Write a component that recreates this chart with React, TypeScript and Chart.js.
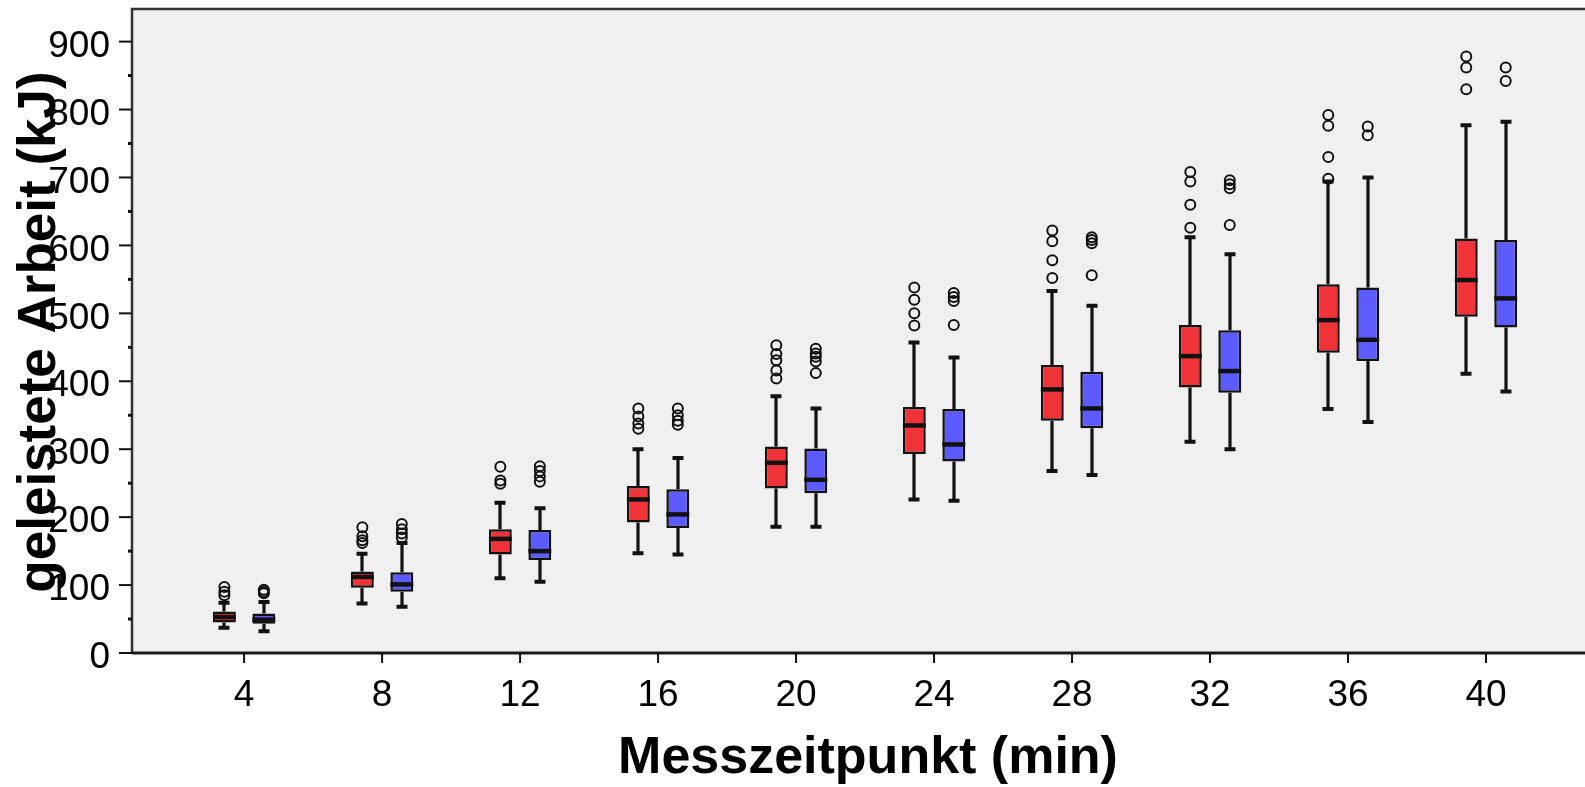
import { useEffect, useRef } from "react";
import { Chart, registerables } from "chart.js";

Chart.register(...registerables);

// Measurement times (min)
const minutes = [4, 8, 12, 16, 20, 24, 28, 32, 36, 40];

// Group 1 (red): five-number summaries per measurement time, in kJ
const redMin = [37, 73, 110, 147, 186, 226, 268, 311, 359, 411];
const redQ1 = [45, 96, 145, 192, 242, 293, 342, 391, 442, 495];
const redMedian = [53, 112, 168, 226, 280, 335, 388, 437, 490, 549];
const redQ3 = [61, 120, 182, 246, 304, 362, 424, 483, 543, 610];
const redMax = [74, 146, 221, 300, 378, 457, 533, 612, 694, 777];
const redOutliers = [
  [97, 90, 85],
  [185, 172, 166, 162],
  [274, 254, 249],
  [360, 348, 338, 330],
  [453, 440, 431, 416, 404],
  [538, 520, 500, 482],
  [622, 606, 578, 552],
  [708, 694, 660, 626],
  [792, 776, 730, 698],
  [878, 862, 830],
];

// Group 2 (blue)
const blueMin = [32, 68, 105, 145, 186, 224, 262, 300, 340, 385];
const blueQ1 = [43, 90, 137, 184, 235, 282, 331, 383, 430, 479];
const blueMedian = [49, 101, 150, 204, 255, 307, 360, 415, 461, 522];
const blueQ3 = [58, 119, 181, 241, 301, 359, 414, 475, 538, 608];
const blueMax = [75, 162, 213, 287, 360, 435, 511, 587, 700, 782];
const blueOutliers = [
  [93, 90, 88],
  [190, 182, 176, 170],
  [275, 268, 260, 252],
  [360, 350, 342, 336],
  [448, 441, 436, 429, 412],
  [530, 524, 518, 483],
  [612, 608, 603, 556],
  [696, 690, 684, 630],
  [775, 762],
  [862, 842],
];

// Axis ticks
const yTickValues = [0, 50, 100, 150, 200, 250, 300, 350, 400, 450, 500, 550, 600, 650, 700, 750, 800, 850, 900];
const yLabelStep = 100;
const xTitle = "Messzeitpunkt (min)";
const yTitle = "geleistete Arbeit (kJ)";

const RED = "#f03239";
const BLUE = "#5b5bff";
const INK = "#111111";
const FONT = "'Liberation Sans', Arial, sans-serif";

const groups = [
  { min: redMin, q1: redQ1, median: redMedian, q3: redQ3, max: redMax, outliers: redOutliers, color: RED },
  { min: blueMin, q1: blueQ1, median: blueMedian, q3: blueQ3, max: blueMax, outliers: blueOutliers, color: BLUE },
];

const boxplotPlugin = {
  id: "boxplotParts",
  beforeDraw(chart: any) {
    const { ctx, chartArea: a } = chart;
    ctx.save();
    ctx.fillStyle = "#f0f0f0";
    ctx.fillRect(a.left, a.top, a.right - a.left, a.bottom - a.top);
    ctx.restore();
  },
  beforeDatasetsDraw(chart: any) {
    const { ctx } = chart;
    const y = chart.scales.y;
    ctx.save();
    ctx.strokeStyle = INK;
    groups.forEach((g, di) => {
      const meta = chart.getDatasetMeta(di);
      meta.data.forEach((bar: any, j: number) => {
        const x = Math.round(bar.x);
        const yMin = y.getPixelForValue(g.min[j]);
        const yMax = y.getPixelForValue(g.max[j]);
        const yQ1 = y.getPixelForValue(g.q1[j]);
        const yQ3 = y.getPixelForValue(g.q3[j]);
        ctx.lineWidth = 3.2;
        ctx.beginPath();
        ctx.moveTo(x, yQ3);
        ctx.lineTo(x, yMax);
        ctx.moveTo(x, yQ1);
        ctx.lineTo(x, yMin);
        ctx.stroke();
        ctx.lineWidth = 4;
        ctx.beginPath();
        ctx.moveTo(x - 5.5, yMax);
        ctx.lineTo(x + 5.5, yMax);
        ctx.moveTo(x - 5.5, yMin);
        ctx.lineTo(x + 5.5, yMin);
        ctx.stroke();
      });
    });
    ctx.restore();
  },
  afterDatasetsDraw(chart: any) {
    const { ctx } = chart;
    const y = chart.scales.y;
    ctx.save();
    ctx.strokeStyle = INK;
    groups.forEach((g, di) => {
      const meta = chart.getDatasetMeta(di);
      meta.data.forEach((bar: any, j: number) => {
        const x = bar.x;
        const half = bar.width / 2;
        const yMed = y.getPixelForValue(g.median[j]);
        ctx.lineWidth = 4.5;
        ctx.beginPath();
        ctx.moveTo(x - half, yMed);
        ctx.lineTo(x + half, yMed);
        ctx.stroke();
        ctx.lineWidth = 2;
        g.outliers[j].forEach((v) => {
          ctx.beginPath();
          ctx.arc(x, y.getPixelForValue(v), 5, 0, Math.PI * 2);
          ctx.stroke();
        });
      });
    });
    ctx.restore();
  },
  afterDraw(chart: any) {
    const { ctx, chartArea: a } = chart;
    const xs = chart.scales.x;
    const ys = chart.scales.y;
    ctx.save();
    // frame
    ctx.strokeStyle = "#333";
    ctx.lineWidth = 2.5;
    ctx.beginPath();
    ctx.moveTo(a.right, a.top);
    ctx.lineTo(a.left, a.top);
    ctx.lineTo(a.left, a.bottom);
    ctx.stroke();
    ctx.strokeStyle = "#1a1a1a";
    ctx.lineWidth = 3;
    ctx.beginPath();
    ctx.moveTo(a.left, a.bottom);
    ctx.lineTo(a.right, a.bottom);
    ctx.stroke();
    // y tick marks: long at labelled values, short in between
    ctx.strokeStyle = INK;
    yTickValues.forEach((v) => {
      const py = ys.getPixelForValue(v);
      const major = v % yLabelStep === 0;
      ctx.lineWidth = major ? 2 : 3;
      ctx.beginPath();
      ctx.moveTo(a.left - (major ? 13 : 4), py);
      ctx.lineTo(a.left, py);
      ctx.stroke();
    });
    // x tick marks
    ctx.lineWidth = 2;
    minutes.forEach((m) => {
      const px = xs.getPixelForValue(m);
      ctx.beginPath();
      ctx.moveTo(px, a.bottom);
      ctx.lineTo(px, a.bottom + 10);
      ctx.stroke();
    });
    // axis titles
    ctx.fillStyle = "#000";
    ctx.font = `bold 52px ${FONT}`;
    ctx.textAlign = "center";
    ctx.textBaseline = "alphabetic";
    ctx.fillText(xTitle, 868, 773);
    ctx.translate(55, 332);
    ctx.rotate(-Math.PI / 2);
    ctx.font = `bold 53px ${FONT}`;
    ctx.fillText(yTitle, 0, 0);
    ctx.restore();
  },
};

export default function App() {
  const ref = useRef<HTMLCanvasElement>(null);

  useEffect(() => {
    document.body.style.margin = "0";
    document.body.style.overflow = "hidden";
    const datasets = groups.map((g) => ({
      type: "bar" as const,
      data: minutes.map((m, i) => ({ x: m, y: [g.q1[i], g.q3[i]] })),
      backgroundColor: g.color,
      borderColor: INK,
      borderWidth: 2.5,
      borderSkipped: false,
      categoryPercentage: 0.572,
      barPercentage: 0.58,
    }));
    const chart = new Chart(ref.current as HTMLCanvasElement, {
      type: "bar",
      data: { datasets } as any,
      options: {
        animation: false,
        responsive: false,
        layout: { padding: { left: 0, top: 9, right: 0, bottom: 0 } },
        plugins: { legend: { display: false }, tooltip: { enabled: false } },
        scales: {
          x: {
            type: "linear",
            min: 0.75,
            max: 42.87,
            offset: false,
            grid: { display: false },
            border: { display: false },
            afterBuildTicks: (s: any) => {
              s.ticks = minutes.map((m) => ({ value: m }));
            },
            afterFit: (s: any) => {
              s.height = 134;
              s.paddingLeft = 0;
              s.paddingRight = 0;
            },
            ticks: {
              autoSkip: false,
              maxRotation: 0,
              padding: 13,
              color: "#000",
              font: { family: FONT, size: 37 },
              callback: (v: any) => String(v),
            },
          },
          y: {
            type: "linear",
            min: 0,
            max: 948,
            grid: { display: false },
            border: { display: false },
            afterBuildTicks: (s: any) => {
              s.ticks = yTickValues.map((v) => ({ value: v }));
            },
            afterFit: (s: any) => {
              s.width = 132;
              s.paddingTop = 0;
              s.paddingBottom = 0;
            },
            ticks: {
              autoSkip: false,
              padding: 14,
              labelOffset: 5,
              color: "#000",
              font: { family: FONT, size: 37 },
              callback: (v: any) => (Number(v) % yLabelStep === 0 ? String(v) : ""),
            },
          },
        },
      },
      plugins: [boxplotPlugin],
    } as any);
    return () => chart.destroy();
  }, []);

  return (
    <div style={{ width: 1585, height: 787 }}>
      <canvas ref={ref} width={1585} height={787} style={{ display: "block" }} />
    </div>
  );
}
